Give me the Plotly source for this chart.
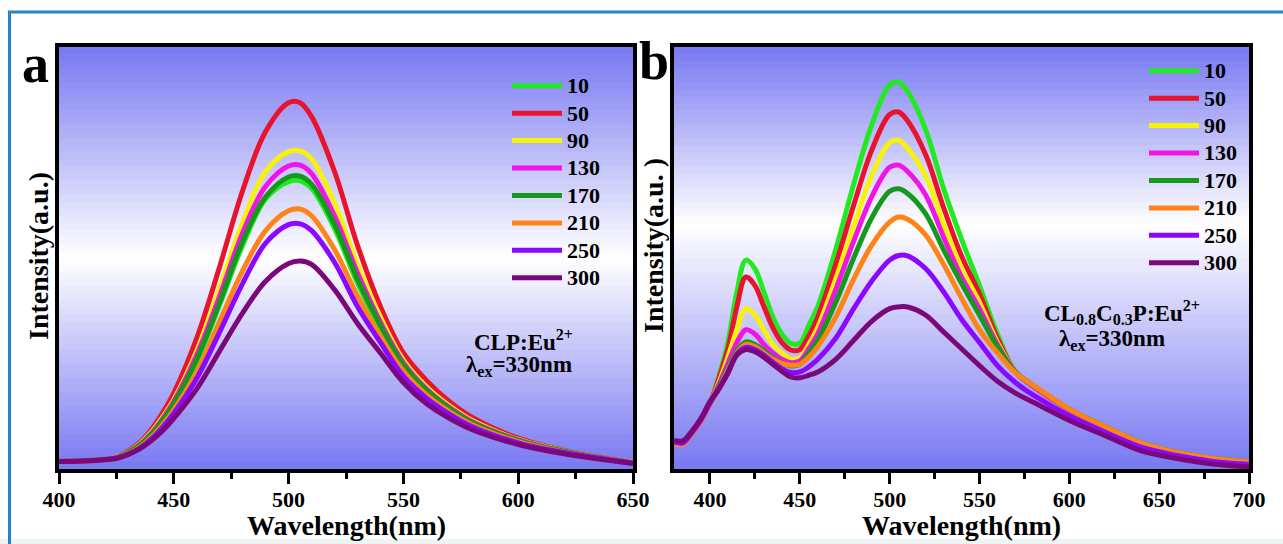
import plotly.graph_objects as go

# ---------------- data ----------------
SERIES = ["10", "50", "90", "130", "170", "210", "250", "300"]
COLORS = ["#22EA22", "#E8142D", "#F7F20C", "#F014E8", "#16981C", "#FF8418", "#8A08FF", "#7A087A"]

WL_A = [400, 410, 420, 425, 430, 435, 440, 445, 450, 460, 470, 480, 490, 500, 505,
        510, 520, 530, 540, 550, 560, 570, 580, 600, 620, 650]
A_10 = [1.8, 1.9, 2.3, 2.7, 3.8, 5.5, 8.0, 11.3, 15.3, 25.5, 39, 53, 64, 68.1, 68.3,
        66.5, 57, 44, 33.3, 24.3, 18.4, 14.2, 10.9, 6.7, 4.1, 1.5]
A_50 = [1.8, 1.9, 2.3, 2.8, 4.2, 6.2, 9.2, 13.2, 18, 31, 48, 66, 80, 86.8, 86.8,
        83.5, 70.5, 53, 38.5, 27.5, 21, 16, 12.2, 7.3, 4.4, 1.6]
A_90 = [1.8, 1.9, 2.3, 2.8, 4.0, 5.9, 8.6, 12.2, 16.5, 28, 43, 58.5, 70.5, 75.2, 75.4,
        73.5, 63, 48.5, 36, 25.8, 19.5, 15, 11.5, 7.0, 4.3, 1.6]
A_130 = [1.8, 1.9, 2.3, 2.7, 3.9, 5.7, 8.3, 11.8, 16, 27, 41, 56, 67, 71.8, 72,
         70, 60, 46.5, 34.8, 25.2, 19, 14.6, 11.2, 6.9, 4.2, 1.5]
A_170 = [1.8, 1.9, 2.3, 2.7, 3.9, 5.6, 8.1, 11.5, 15.5, 26, 39.5, 54, 64.5, 69.2, 69.4,
         67.5, 58, 45, 34, 24.7, 18.7, 14.4, 11, 6.8, 4.2, 1.5]
A_210 = [1.8, 1.9, 2.2, 2.6, 3.6, 5.1, 7.4, 10.4, 14, 23, 35, 47, 56.5, 61.2, 61.6,
         60, 52, 41, 31.5, 23.2, 17.6, 13.6, 10.5, 6.5, 4.0, 1.5]
A_250 = [1.8, 1.9, 2.2, 2.6, 3.5, 4.9, 7.0, 9.8, 13.2, 21.5, 32.5, 44, 53.5, 57.9, 58.1,
         56.5, 49, 38.5, 30, 22, 16.8, 13, 10, 6.2, 3.9, 1.4]
A_300 = [1.8, 1.9, 2.2, 2.5, 3.4, 4.7, 6.6, 9.0, 12, 19, 28, 37, 44.5, 48.7, 49.3,
         48.5, 42.5, 34.5, 27.5, 20.5, 15.5, 12, 9.3, 5.8, 3.6, 1.3]

WL_B = [380, 385, 390, 395, 400, 405, 410, 415, 420, 425, 430, 435, 440, 445, 450, 455,
        460, 470, 480, 490, 500, 505, 510, 520, 530, 540, 550, 560, 570, 580, 600, 620,
        640, 660, 680, 700]
B_10 = [6.2, 6.0, 8.5, 11.5, 15.5, 22, 30, 42, 49.5, 47.5, 42, 36, 32, 29.8, 29.8, 34,
        38.5, 52, 67.5, 81.5, 91, 91.7, 89.5, 80.5, 66.5, 54.5, 43.5, 32, 23, 19.5, 14, 9.8,
        6.0, 3.8, 2.4, 1.6]
B_50 = [6.2, 6.0, 8.5, 11.5, 15.5, 21.5, 28.5, 38.5, 45.5, 43.5, 38.5, 33.5, 30, 28.2, 28.3, 31.5,
        36, 48.5, 62.5, 75.5, 84, 84.6, 82.5, 74.5, 62, 50.5, 41.5, 31, 23, 19.5, 14, 9.8,
        6.0, 3.8, 2.4, 1.6]
B_90 = [6.2, 6.0, 8.5, 11.5, 15.5, 20.5, 26.5, 33, 38, 36.5, 33, 29.5, 27.5, 26.1, 26.3, 29.5,
        33.5, 45, 57.5, 69.5, 77.3, 77.9, 76, 69.5, 58, 47.5, 39.5, 30, 23, 19.5, 14, 9.8,
        6.0, 3.8, 2.4, 1.6]
B_130 = [6.2, 6.0, 8.5, 11.5, 15.5, 20, 25, 30, 33, 32, 29.5, 27.5, 26, 25.2, 25.6, 28.5,
         32, 42.5, 54, 64.5, 71.5, 72, 70.5, 65, 55, 45.5, 38, 29.5, 23, 19.5, 14, 9.8,
         6.0, 3.8, 2.4, 1.6]
B_170 = [6.2, 6.0, 8.5, 11.5, 15.5, 19.5, 24, 28, 30.1, 29.5, 28, 26.3, 25.2, 24.4, 24.8, 27.5,
         30.5, 39.5, 50, 59.5, 65.8, 66.4, 65.3, 60.5, 52, 44, 36.5, 29, 23, 19.8, 14.2, 10,
         6.2, 3.9, 2.5, 1.7]
B_210 = [6.0, 5.8, 8.3, 11.3, 15.3, 19, 23.5, 27.5, 29.5, 29, 27.5, 26, 25, 24.6, 24.8, 26.5,
         29, 36, 45, 53, 58.5, 59.7, 59.2, 55.5, 48.5, 40.5, 33, 27.5, 22.8, 19.8, 14.2, 10,
         6.2, 3.9, 2.5, 1.7]
B_250 = [6.4, 6.2, 8.6, 11.6, 15.6, 19, 23, 27.3, 28.8, 28.3, 27, 25.3, 23.8, 22.9, 23, 24.2,
         26, 31, 38, 44.5, 49.5, 50.6, 50.5, 47.5, 42, 35.5, 30, 24.5, 20.5, 17.5, 12.6, 8.7,
         5.2, 3.2, 1.8, 1.1]
B_300 = [6.8, 6.7, 9.0, 12, 16, 19, 22.7, 27, 28.3, 27.8, 26.5, 24.8, 23.2, 21.8, 21.6, 22.2,
         23, 26, 30.5, 35, 38, 38.4, 38.4, 36.5, 32.5, 28.5, 24.5, 20.8, 18, 15.8, 11.5, 7.9,
         4.3, 2.5, 1.2, 0.5]

PANEL_A = [A_10, A_50, A_90, A_130, A_170, A_210, A_250, A_300]
PANEL_B = [B_10, B_50, B_90, B_130, B_170, B_210, B_250, B_300]

# ---------------- figure ----------------
W, H = 1283, 544
FONT = "Liberation Serif, Times New Roman, serif"
LEG_TXT = 22  # visible size of legend labels

def leg_label(s):
    return '<span style="font-size:%dpx">%s</span>' % (LEG_TXT, s)

fig = go.Figure()

for name, col, ys in zip(SERIES, COLORS, PANEL_A):
    fig.add_trace(go.Scatter(x=WL_A, y=ys, name=leg_label(name), mode="lines",
                             line=dict(color=col, width=5, shape="spline", smoothing=1.0),
                             xaxis="x", yaxis="y", legend="legend"))
for name, col, ys in zip(SERIES, COLORS, PANEL_B):
    fig.add_trace(go.Scatter(x=WL_B, y=ys, name=leg_label(name), mode="lines",
                             line=dict(color=col, width=5, shape="spline", smoothing=1.0),
                             xaxis="x2", yaxis="y2", legend="legend2"))

# pixel geometry of plot frames
AX_L, AX_R = 59, 633
BX_L, BX_R = 674, 1249
Y_TOP, Y_BOT = 47, 469
ydom = [(H - Y_BOT) / H, (H - Y_TOP) / H]

tickfont = dict(family=FONT, size=22, color="black", weight="bold")
titlefont = dict(family=FONT, size=28, color="black", weight="bold")

def xaxis_cfg(dom, rng, anchor):
    return dict(domain=dom, range=rng, anchor=anchor, automargin=False, showline=True,
                linewidth=4, linecolor="black", mirror=True, ticks="outside", ticklen=11,
                tickwidth=3, tickcolor="black", tick0=400, dtick=50, tickfont=tickfont,
                ticklabelstandoff=-3, showgrid=False, zeroline=False,
                minor=dict(ticks="outside", dtick=25, tick0=400, ticklen=6, tickwidth=3,
                           tickcolor="black", showgrid=False))

def yaxis_cfg(anchor):
    return dict(domain=ydom, range=[0, 100], anchor=anchor, automargin=False, showline=True,
                linewidth=4, linecolor="black", mirror=True, ticks="", showticklabels=False,
                showgrid=False, zeroline=False)

legend_common = dict(font=dict(family=FONT, size=18.8, color="black", weight="bold"),
                     bgcolor="rgba(0,0,0,0)", borderwidth=0, xanchor="left", yanchor="top",
                     tracegroupgap=0, itemwidth=50)

fig.update_layout(
    template="none",
    width=W, height=H,
    margin=dict(l=0, r=0, t=0, b=0, autoexpand=False),
    paper_bgcolor="white", plot_bgcolor="rgba(0,0,0,0)",
    showlegend=True,
    xaxis=xaxis_cfg([AX_L / W, AX_R / W], [400, 650], "y"),
    yaxis=yaxis_cfg("x"),
    xaxis2=xaxis_cfg([BX_L / W, BX_R / W], [380, 700], "y2"),
    yaxis2=yaxis_cfg("x2"),
    legend=dict(x=507 / W, y=1 - 67 / H, **legend_common),
    legend2=dict(x=1144 / W, y=1 - 52 / H, **legend_common),
)

# ---------------- gradient backgrounds (bands) ----------------
BLUE = (120, 120, 242)
WHITE = (255, 255, 255)
NB = 60

def band_color(t, tw):
    f = t / tw if t < tw else (1 - t) / (1 - tw)
    c = [round(b + (w - b) * f) for b, w in zip(BLUE, WHITE)]
    return "rgb(%d,%d,%d)" % tuple(c)

shapes = []
for xr, yr, tw in (("x domain", "y domain", 0.50), ("x2 domain", "y2 domain", 0.58)):
    for i in range(NB):
        t0, t1 = i / NB, (i + 1) / NB
        shapes.append(dict(type="rect", xref=xr, yref=yr, x0=0, x1=1, y0=t0, y1=t1 + 0.002,
                           fillcolor=band_color((t0 + t1) / 2, tw), line=dict(width=0),
                           layer="below"))

# outer figure border & bottom strip
shapes.append(dict(type="rect", xref="paper", yref="paper", x0=0, x1=1, y0=0, y1=5 / H,
                   fillcolor="#EEF4F4", line=dict(width=0), layer="below"))
shapes.append(dict(type="rect", xref="paper", yref="paper", x0=9.5 / W, x1=1.02,
                   y0=-0.05, y1=1 - 12 / H, line=dict(color="#2683C6", width=3),
                   fillcolor="rgba(0,0,0,0)", layer="above"))
fig.update_layout(shapes=shapes)

# ---------------- annotations ----------------
ann_font = dict(family=FONT, size=23, color="black", weight="bold")
big = dict(family=FONT, size=54, color="black", weight="bold")

def P(xpx, ypx):
    return xpx / W, 1 - ypx / H

annotations = []
for txt, (px, py) in (("a", (35, 64)), ("b", (654, 61))):
    x, y = P(px, py)
    annotations.append(dict(text=txt, xref="paper", yref="paper", x=x, y=y,
                            xanchor="center", yanchor="middle", showarrow=False, font=big))
# axis titles
for cx in ((AX_L + AX_R) / 2, (BX_L + BX_R) / 2):
    x, y = P(cx, 525)
    annotations.append(dict(text="Wavelength(nm)", xref="paper", yref="paper", x=x, y=y,
                            xanchor="center", yanchor="middle", showarrow=False, font=titlefont))
for txt, (px, py) in (("Intensity(a.u.)", (38, 256)), ("Intensity(a.u. )", (654, 246))):
    x, y = P(px, py)
    annotations.append(dict(text=txt, xref="paper", yref="paper", x=x, y=y, textangle=-90,
                            xanchor="center", yanchor="middle", showarrow=False, font=titlefont))
# inset labels
annotations += [
    dict(text="CLP:Eu<sup>2+</sup>", xref="x domain", yref="y domain", x=0.72, y=0.305,
         xanchor="left", yanchor="middle", showarrow=False, font=ann_font),
    dict(text="λ<sub>ex</sub>=330nm", xref="x domain", yref="y domain", x=0.706, y=0.245,
         xanchor="left", yanchor="middle", showarrow=False, font=ann_font),
    dict(text="CL<sub>0.8</sub>C<sub>0.3</sub>P:Eu<sup>2+</sup>", xref="x2 domain",
         yref="y2 domain", x=0.64, y=0.37, xanchor="left", yanchor="middle", showarrow=False,
         font=ann_font),
    dict(text="λ<sub>ex</sub>=330nm", xref="x2 domain", yref="y2 domain", x=0.666, y=0.305,
         xanchor="left", yanchor="middle", showarrow=False, font=ann_font),
]
fig.update_layout(annotations=annotations)

fig.write_html("out.html")
